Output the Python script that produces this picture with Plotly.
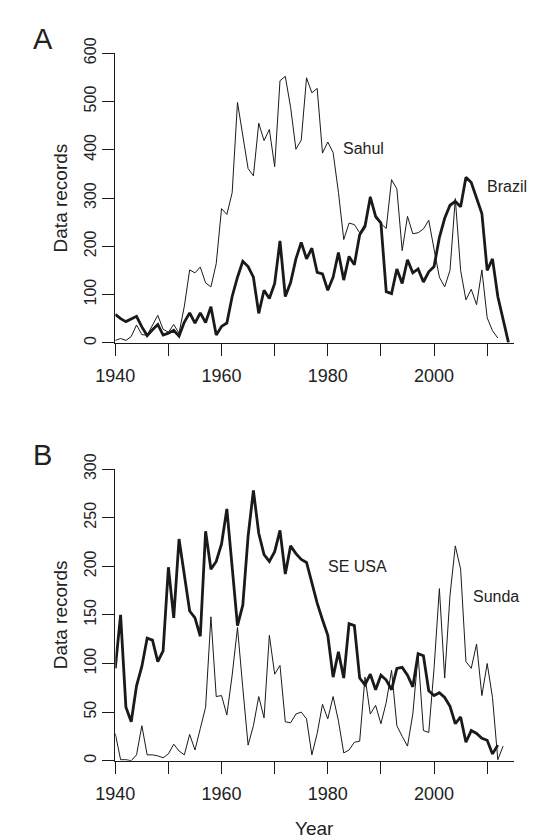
import plotly.graph_objects as go

# ---------------- data ----------------
years_brazil = list(range(1940, 2015))
brazil = [59, 50, 44, 50, 55, 33, 15, 27, 38, 16,
          20, 26, 14, 43, 62, 41, 62, 42, 75, 16,
          34, 41, 96, 136, 169, 158, 136, 61, 109, 92,
          123, 211, 96, 125, 174, 208, 174, 196, 146, 143,
          109, 136, 187, 130, 179, 162, 224, 241, 302, 262,
          248, 106, 102, 153, 123, 172, 145, 153, 126, 147,
          158, 218, 258, 285, 293, 282, 343, 332, 300, 268,
          150, 174, 96, 45, 1]

years_sahul = list(range(1940, 2013))
sahul = [5, 9, 5, 13, 37, 17, 16, 38, 57, 28,
         22, 38, 20, 76, 151, 145, 157, 124, 116, 164,
         278, 266, 311, 498, 430, 361, 346, 455, 419, 442,
         365, 543, 552, 488, 401, 420, 549, 518, 527, 393,
         416, 394, 312, 214, 248, 245, 228, 246, 303, 258,
         247, 237, 338, 319, 191, 262, 226, 228, 236, 254,
         194, 136, 116, 150, 299, 150, 89, 111, 79, 151,
         52, 25, 10]

years_seusa = list(range(1940, 2013))
seusa = [95, 150, 55, 40, 77, 97, 126, 124, 102, 113,
         199, 147, 228, 190, 154, 147, 128, 236, 197, 205,
         223, 259, 201, 139, 160, 231, 278, 234, 212, 205,
         215, 237, 192, 221, 213, 207, 204, 182, 162, 145,
         129, 86, 112, 85, 141, 139, 85, 78, 89, 73,
         88, 83, 73, 95, 96, 88, 76, 110, 108, 72,
         67, 70, 65, 56, 38, 45, 19, 31, 28, 23,
         21, 7, 16]

years_sunda = list(range(1940, 2014))
sunda = [28, 1, 1, 0, 6, 36, 6, 6, 5, 3,
         7, 17, 10, 6, 27, 11, 33, 55, 148, 66,
         67, 47, 88, 137, 75, 16, 36, 66, 44, 129,
         89, 98, 40, 39, 48, 50, 43, 6, 28, 58,
         43, 66, 41, 8, 11, 19, 20, 86, 48, 57,
         38, 60, 93, 36, 25, 15, 48, 109, 31, 29,
         95, 177, 85, 170, 221, 197, 102, 95, 120, 67,
         100, 65, 1, 15]

x_ticks = [1940, 1950, 1960, 1970, 1980, 1990, 2000, 2010]
x_ticktext = ["1940", "", "1960", "", "1980", "", "2000", ""]
yA_ticks = [0, 100, 200, 300, 400, 500, 600]
yB_ticks = [0, 50, 100, 150, 200, 250, 300]

# ---------------- figure ----------------
W, H = 533, 840
FONT = "Liberation Sans, Arial, Helvetica, sans-serif"
INK = "#1a1a1a"
TXT = "#222222"

def px_x(p):
    return p / W

def px_y(p):
    return 1 - p / H

fig = go.Figure()
thin = dict(color=INK, width=1)
thick = dict(color=INK, width=2.8)

fig.add_trace(go.Scatter(x=years_sahul, y=sahul, mode="lines", line=thin,
                         xaxis="x", yaxis="y", showlegend=False))
fig.add_trace(go.Scatter(x=years_brazil, y=brazil, mode="lines", line=thick,
                         xaxis="x", yaxis="y", showlegend=False))
fig.add_trace(go.Scatter(x=years_sunda, y=sunda, mode="lines", line=thin,
                         xaxis="x2", yaxis="y2", showlegend=False))
fig.add_trace(go.Scatter(x=years_seusa, y=seusa, mode="lines", line=thick,
                         xaxis="x2", yaxis="y2", showlegend=False))

x_left, x_right = 99, 513
A_top, A_bot = 38, 334
B_top, B_bot = 463, 761

common_x = dict(range=[1940, 2015], tickvals=x_ticks, ticktext=x_ticktext,
                ticks="outside", ticklen=12, tickwidth=1, tickcolor=INK,
                showline=True, linecolor=INK, linewidth=1,
                showgrid=False, zeroline=False, ticklabelstandoff=5,
                tickfont=dict(family=FONT, size=18, color=TXT),
                domain=[px_x(x_left), px_x(x_right)])
common_y = dict(ticks="outside", ticklen=12, tickwidth=1, tickcolor=INK,
                showline=True, linecolor=INK, linewidth=1,
                showgrid=False, zeroline=False, tickangle=-90,
                tickfont=dict(family=FONT, size=16, color=TXT))

fig.update_layout(
    width=W, height=H, autosize=False,
    margin=dict(l=0, r=0, t=0, b=0),
    paper_bgcolor="white", plot_bgcolor="white",
    xaxis=dict(common_x, anchor="y"),
    yaxis=dict(common_y, range=[0, 600], tickvals=yA_ticks, anchor="x",
               domain=[px_y(A_bot), px_y(A_top)]),
    xaxis2=dict(common_x, anchor="y2"),
    yaxis2=dict(common_y, range=[0, 300], tickvals=yB_ticks, anchor="x2",
                domain=[px_y(B_bot), px_y(B_top)]),
)

ann_font = dict(family=FONT, size=16, color=TXT)
fig.add_annotation(x=1986.8, y=403, xref="x", yref="y", text="Sahul",
                   showarrow=False, font=ann_font)
fig.add_annotation(x=2013.7, y=324, xref="x", yref="y", text="Brazil",
                   showarrow=False, font=ann_font)
fig.add_annotation(x=1985.6, y=200, xref="x2", yref="y2", text="SE USA",
                   showarrow=False, font=ann_font)
fig.add_annotation(x=2011.7, y=169, xref="x2", yref="y2", text="Sunda",
                   showarrow=False, font=ann_font)

def paper_text(cx, cy, text, font, angle=0):
    fig.add_annotation(x=px_x(cx), y=px_y(cy), xref="paper", yref="paper",
                       xanchor="center", yanchor="middle", text=text,
                       textangle=angle, showarrow=False, font=font)

title_font = dict(family=FONT, size=19, color=TXT)
paper_text(42, (A_top + A_bot) / 2, "Data records", title_font, -90)
paper_text(42, (B_top + B_bot) / 2, "Data records", title_font, -90)
paper_text((x_left + x_right) / 2, 830, "Year", title_font)

letter_font = dict(family=FONT, size=29, color=TXT)
paper_text(23.5, 24, "A", letter_font)
paper_text(23.5, 449, "B", letter_font)

fig.write_html("out.html")
